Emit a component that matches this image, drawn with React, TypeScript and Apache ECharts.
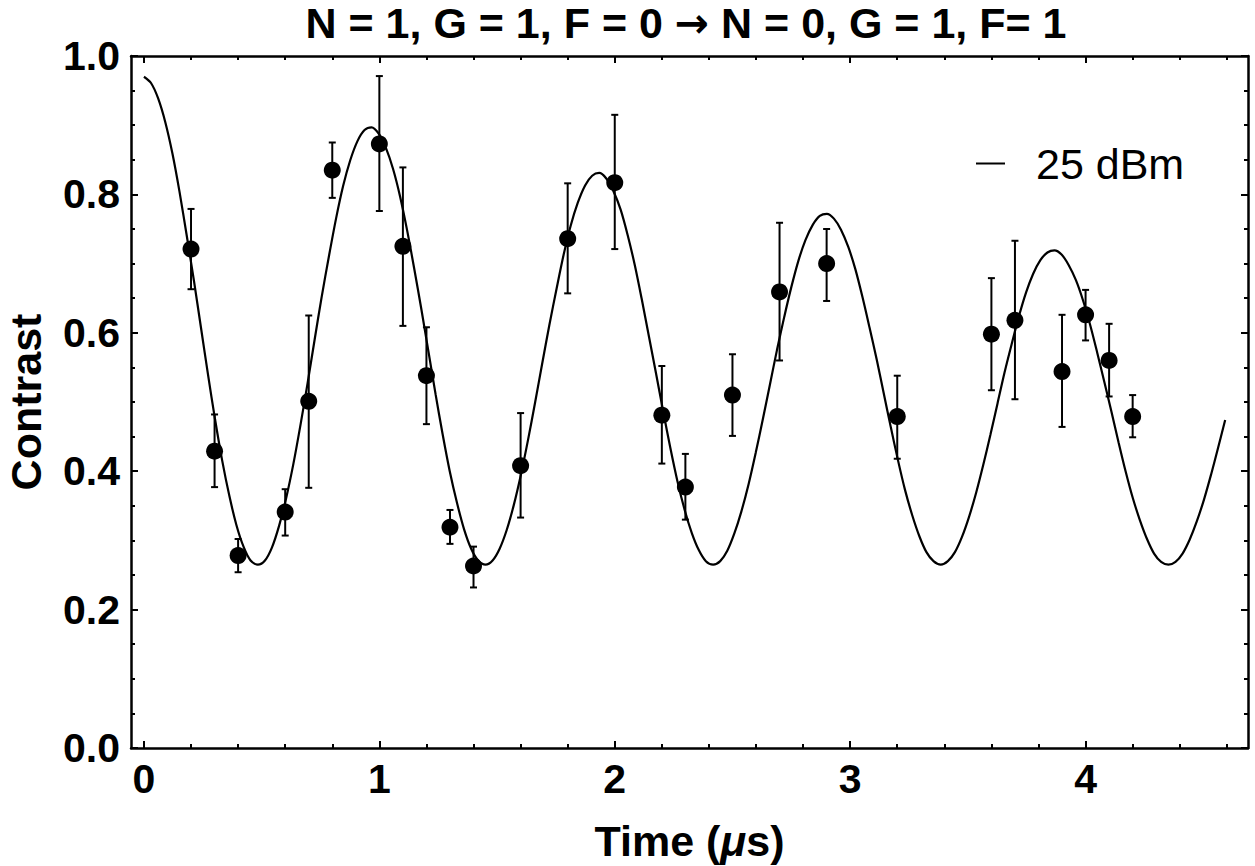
import React, { useEffect, useRef } from "react";
import * as echarts from "echarts";

// Measured data points (time in µs, contrast) with error bar limits
const timeData = [0.2, 0.3, 0.4, 0.6, 0.7, 0.8, 1.0, 1.1, 1.2, 1.3, 1.4, 1.6, 1.8, 2.0, 2.2, 2.3, 2.5, 2.7, 2.9, 3.2, 3.6, 3.7, 3.9, 4.0, 4.1, 4.2];
const contrastData = [0.721, 0.429, 0.278, 0.341, 0.501, 0.835, 0.873, 0.725, 0.538, 0.319, 0.263, 0.408, 0.736, 0.817, 0.481, 0.377, 0.510, 0.659, 0.700, 0.479, 0.598, 0.618, 0.544, 0.626, 0.560, 0.479];
const errLow = [0.663, 0.377, 0.254, 0.307, 0.376, 0.795, 0.776, 0.610, 0.468, 0.295, 0.232, 0.333, 0.657, 0.721, 0.411, 0.330, 0.451, 0.560, 0.646, 0.418, 0.517, 0.504, 0.464, 0.589, 0.508, 0.449];
const errHigh = [0.779, 0.482, 0.302, 0.374, 0.625, 0.875, 0.971, 0.839, 0.608, 0.344, 0.291, 0.484, 0.816, 0.915, 0.552, 0.425, 0.569, 0.759, 0.750, 0.538, 0.679, 0.733, 0.626, 0.662, 0.613, 0.510];

// Fit curve
const fitT = [
  0, 0.030, 0.060, 0.091, 0.121, 0.151, 0.181, 0.212, 0.242, 0.272, 0.302, 0.332, 0.363, 0.393, 0.423, 0.453,
  0.484, 0.514, 0.544, 0.574, 0.604, 0.635, 0.665, 0.695, 0.725, 0.755, 0.786, 0.816, 0.846, 0.876, 0.907, 0.937,
  0.967, 0.997, 1.027, 1.058, 1.088, 1.118, 1.148, 1.179, 1.209, 1.239, 1.269, 1.299, 1.330, 1.360, 1.390, 1.420,
  1.451, 1.481, 1.511, 1.541, 1.571, 1.602, 1.632, 1.662, 1.692, 1.722, 1.753, 1.783, 1.813, 1.843, 1.874, 1.904,
  1.934, 1.964, 1.994, 2.025, 2.055, 2.085, 2.115, 2.145, 2.176, 2.206, 2.236, 2.266, 2.297, 2.327, 2.357, 2.387,
  2.418, 2.448, 2.478, 2.508, 2.538, 2.569, 2.599, 2.629, 2.659, 2.689, 2.720, 2.750, 2.780, 2.810, 2.841, 2.871,
  2.901, 2.931, 2.961, 2.992, 3.022, 3.052, 3.082, 3.113, 3.143, 3.173, 3.203, 3.233, 3.264, 3.294, 3.324, 3.354,
  3.385, 3.415, 3.445, 3.475, 3.505, 3.536, 3.566, 3.596, 3.626, 3.656, 3.687, 3.717, 3.747, 3.777, 3.808, 3.838,
  3.868, 3.898, 3.928, 3.959, 3.989, 4.019, 4.049, 4.079, 4.110, 4.140, 4.170, 4.200, 4.231, 4.261, 4.291, 4.321,
  4.352, 4.382, 4.412, 4.442, 4.472, 4.503, 4.533, 4.563, 4.593,
];
const fitY = [
  0.970, 0.961, 0.939, 0.904, 0.859, 0.804, 0.742, 0.676, 0.608, 0.540, 0.475, 0.416, 0.364, 0.322, 0.291, 0.271,
  0.265, 0.271, 0.290, 0.321, 0.361, 0.411, 0.467, 0.527, 0.590, 0.652, 0.711, 0.765, 0.812, 0.849, 0.877, 0.893,
  0.897, 0.888, 0.868, 0.837, 0.797, 0.748, 0.693, 0.633, 0.572, 0.511, 0.453, 0.400, 0.354, 0.316, 0.288, 0.271,
  0.265, 0.271, 0.288, 0.315, 0.351, 0.396, 0.446, 0.500, 0.556, 0.611, 0.664, 0.713, 0.755, 0.788, 0.813, 0.827,
  0.831, 0.823, 0.805, 0.778, 0.741, 0.698, 0.648, 0.595, 0.540, 0.486, 0.434, 0.386, 0.344, 0.311, 0.286, 0.270,
  0.265, 0.270, 0.285, 0.310, 0.342, 0.382, 0.427, 0.475, 0.525, 0.575, 0.623, 0.666, 0.704, 0.734, 0.756, 0.769,
  0.772, 0.765, 0.749, 0.724, 0.692, 0.652, 0.608, 0.561, 0.512, 0.463, 0.416, 0.373, 0.336, 0.306, 0.283, 0.270,
  0.265, 0.270, 0.283, 0.305, 0.334, 0.370, 0.410, 0.453, 0.498, 0.543, 0.585, 0.624, 0.658, 0.685, 0.705, 0.716,
  0.719, 0.713, 0.698, 0.676, 0.647, 0.612, 0.572, 0.530, 0.486, 0.442, 0.400, 0.362, 0.329, 0.302, 0.281, 0.269,
  0.265, 0.269, 0.281, 0.301, 0.327, 0.359, 0.395, 0.434, 0.474,
];

const xMajorTicks = [0, 1, 2, 3, 4];
const xMinorTicks = [0.2, 0.4, 0.6, 0.8, 1.2, 1.4, 1.6, 1.8, 2.2, 2.4, 2.6, 2.8, 3.2, 3.4, 3.6, 3.8, 4.2, 4.4, 4.6];

const titleLeft = "N = 1, G = 1, F = 0 ";
const titleArrow = "\u2192";
const titleRight = " N = 0, G = 1, F= 1";
const legendName = "25 dBm";

const FONT = "'Liberation Sans', Arial, Helvetica, sans-serif";
const X_MIN = -0.055;
const X_MAX = 4.69;

export default function App() {
  const ref = useRef<HTMLDivElement>(null);

  useEffect(() => {
    if (!ref.current) return;
    const chart = echarts.init(ref.current, undefined, { renderer: "svg" });

    const fitData = fitT.map((t, i) => [t, fitY[i]]);
    const pointData = timeData.map((t, i) => [t, contrastData[i]]);
    const errData = timeData.map((t, i) => [t, errLow[i], errHigh[i]]);

    const lineStyle = { color: "#000", width: 2.5 };
    const tickStyle = { color: "#000", width: 2 };

    const xBase = {
      type: "value",
      min: X_MIN,
      max: X_MAX,
      splitLine: { show: false },
    };
    const yBase = {
      type: "value",
      min: 0,
      max: 1,
      interval: 0.2,
      splitLine: { show: false },
    };

    const option: any = {
      animation: false,
      backgroundColor: "#fff",
      title: {
        text: titleLeft + "{arr|" + titleArrow + "}" + titleRight,
        left: 686,
        top: 0,
        padding: 0,
        textAlign: "center",
        textStyle: {
          fontFamily: FONT,
          fontSize: 43,
          lineHeight: 46,
          fontWeight: "bold",
          color: "#000",
          rich: {
            arr: { fontFamily: "'DejaVu Sans', sans-serif", fontSize: 41, lineHeight: 46, fontWeight: "bold", color: "#000" },
          },
        },
      },
      legend: {
        data: [{ name: legendName, icon: "rect" }],
        left: 976,
        top: 142,
        padding: 0,
        itemWidth: 29,
        itemHeight: 2,
        textStyle: { fontFamily: FONT, fontSize: 43, color: "#000", padding: [0, 0, 12, 26] },
      },
      grid: { left: 131, right: 7, top: 56, bottom: 118, containLabel: false, outerBoundsMode: "none" },
      xAxis: [
        {
          ...xBase,
          position: "bottom",
          axisLine: { show: true, onZero: false, lineStyle },
          axisTick: { show: true, inside: true, length: 7, customValues: xMajorTicks, lineStyle: tickStyle },
          axisLabel: {
            show: true,
            customValues: xMajorTicks,
            margin: 10,
            fontFamily: FONT,
            fontSize: 41,
            fontWeight: "bold",
            color: "#000",
            formatter: (v: number) => String(Math.round(v)),
          },
          name: "Time ({i|\u03bc}s)",
          nameLocation: "middle",
          nameGap: 71,
          nameTextStyle: {
            fontFamily: FONT,
            fontSize: 43,
            fontWeight: "bold",
            color: "#000",
            rich: { i: { fontFamily: FONT, fontSize: 43, fontWeight: "bold", fontStyle: "italic", color: "#000" } },
          },
        },
        {
          ...xBase,
          position: "bottom",
          axisLine: { show: false, onZero: false },
          axisTick: { show: true, inside: true, length: 4, customValues: xMinorTicks, lineStyle: tickStyle },
          axisLabel: { show: false },
        },
        {
          ...xBase,
          position: "top",
          axisLine: { show: true, onZero: false, lineStyle },
          axisTick: { show: true, inside: true, length: 7, customValues: xMajorTicks, lineStyle: tickStyle },
          axisLabel: { show: false },
        },
        {
          ...xBase,
          position: "top",
          axisLine: { show: false, onZero: false },
          axisTick: { show: true, inside: true, length: 4, customValues: xMinorTicks, lineStyle: tickStyle },
          axisLabel: { show: false },
        },
      ],
      yAxis: [
        {
          ...yBase,
          position: "left",
          axisLine: { show: true, onZero: false, lineStyle },
          axisTick: { show: true, inside: true, length: 7, lineStyle: tickStyle },
          minorTick: { show: true, splitNumber: 4, length: 4, lineStyle: tickStyle },
          axisLabel: {
            show: true,
            margin: 11,
            fontFamily: FONT,
            fontSize: 41,
            fontWeight: "bold",
            color: "#000",
            formatter: (v: number) => v.toFixed(1),
          },
          name: "Contrast",
          nameLocation: "middle",
          nameGap: 84,
          nameTextStyle: { fontFamily: FONT, fontSize: 43, fontWeight: "bold", color: "#000" },
        },
        {
          ...yBase,
          position: "right",
          axisLine: { show: true, onZero: false, lineStyle },
          axisTick: { show: true, inside: true, length: 7, lineStyle: tickStyle },
          minorTick: { show: true, splitNumber: 4, length: 4, lineStyle: tickStyle },
          axisLabel: { show: false },
        },
      ],
      series: [
        {
          name: legendName,
          type: "line",
          xAxisIndex: 0,
          yAxisIndex: 0,
          data: fitData,
          smooth: 0.3,
          showSymbol: false,
          symbol: "none",
          color: "#000",
          lineStyle: { color: "#000", width: 2.2 },
          z: 2,
        },
        {
          name: "error",
          type: "custom",
          xAxisIndex: 0,
          yAxisIndex: 0,
          data: errData,
          encode: { x: 0, y: [1, 2] },
          z: 3,
          renderItem: (params: any, api: any) => {
            const x = api.value(0);
            const lo = api.value(1);
            const hi = api.value(2);
            const p1 = api.coord([x, lo]);
            const p2 = api.coord([x, hi]);
            const cw = 3.5;
            const st = { stroke: "#000", lineWidth: 2 };
            return {
              type: "group",
              children: [
                { type: "line", shape: { x1: p1[0], y1: p1[1], x2: p2[0], y2: p2[1] }, style: st },
                { type: "line", shape: { x1: p1[0] - cw, y1: p1[1], x2: p1[0] + cw, y2: p1[1] }, style: st },
                { type: "line", shape: { x1: p2[0] - cw, y1: p2[1], x2: p2[0] + cw, y2: p2[1] }, style: st },
              ],
            };
          },
        },
        {
          name: "data",
          type: "scatter",
          xAxisIndex: 0,
          yAxisIndex: 0,
          data: pointData,
          symbol: "circle",
          symbolSize: 17,
          itemStyle: { color: "#000", opacity: 1 },
          z: 4,
        },
      ],
    };

    chart.setOption(option);
    return () => chart.dispose();
  }, []);

  return (
    <div
      ref={ref}
      style={{ position: "absolute", left: 0, top: 0, width: 1255, height: 866, background: "#fff" }}
    />
  );
}
